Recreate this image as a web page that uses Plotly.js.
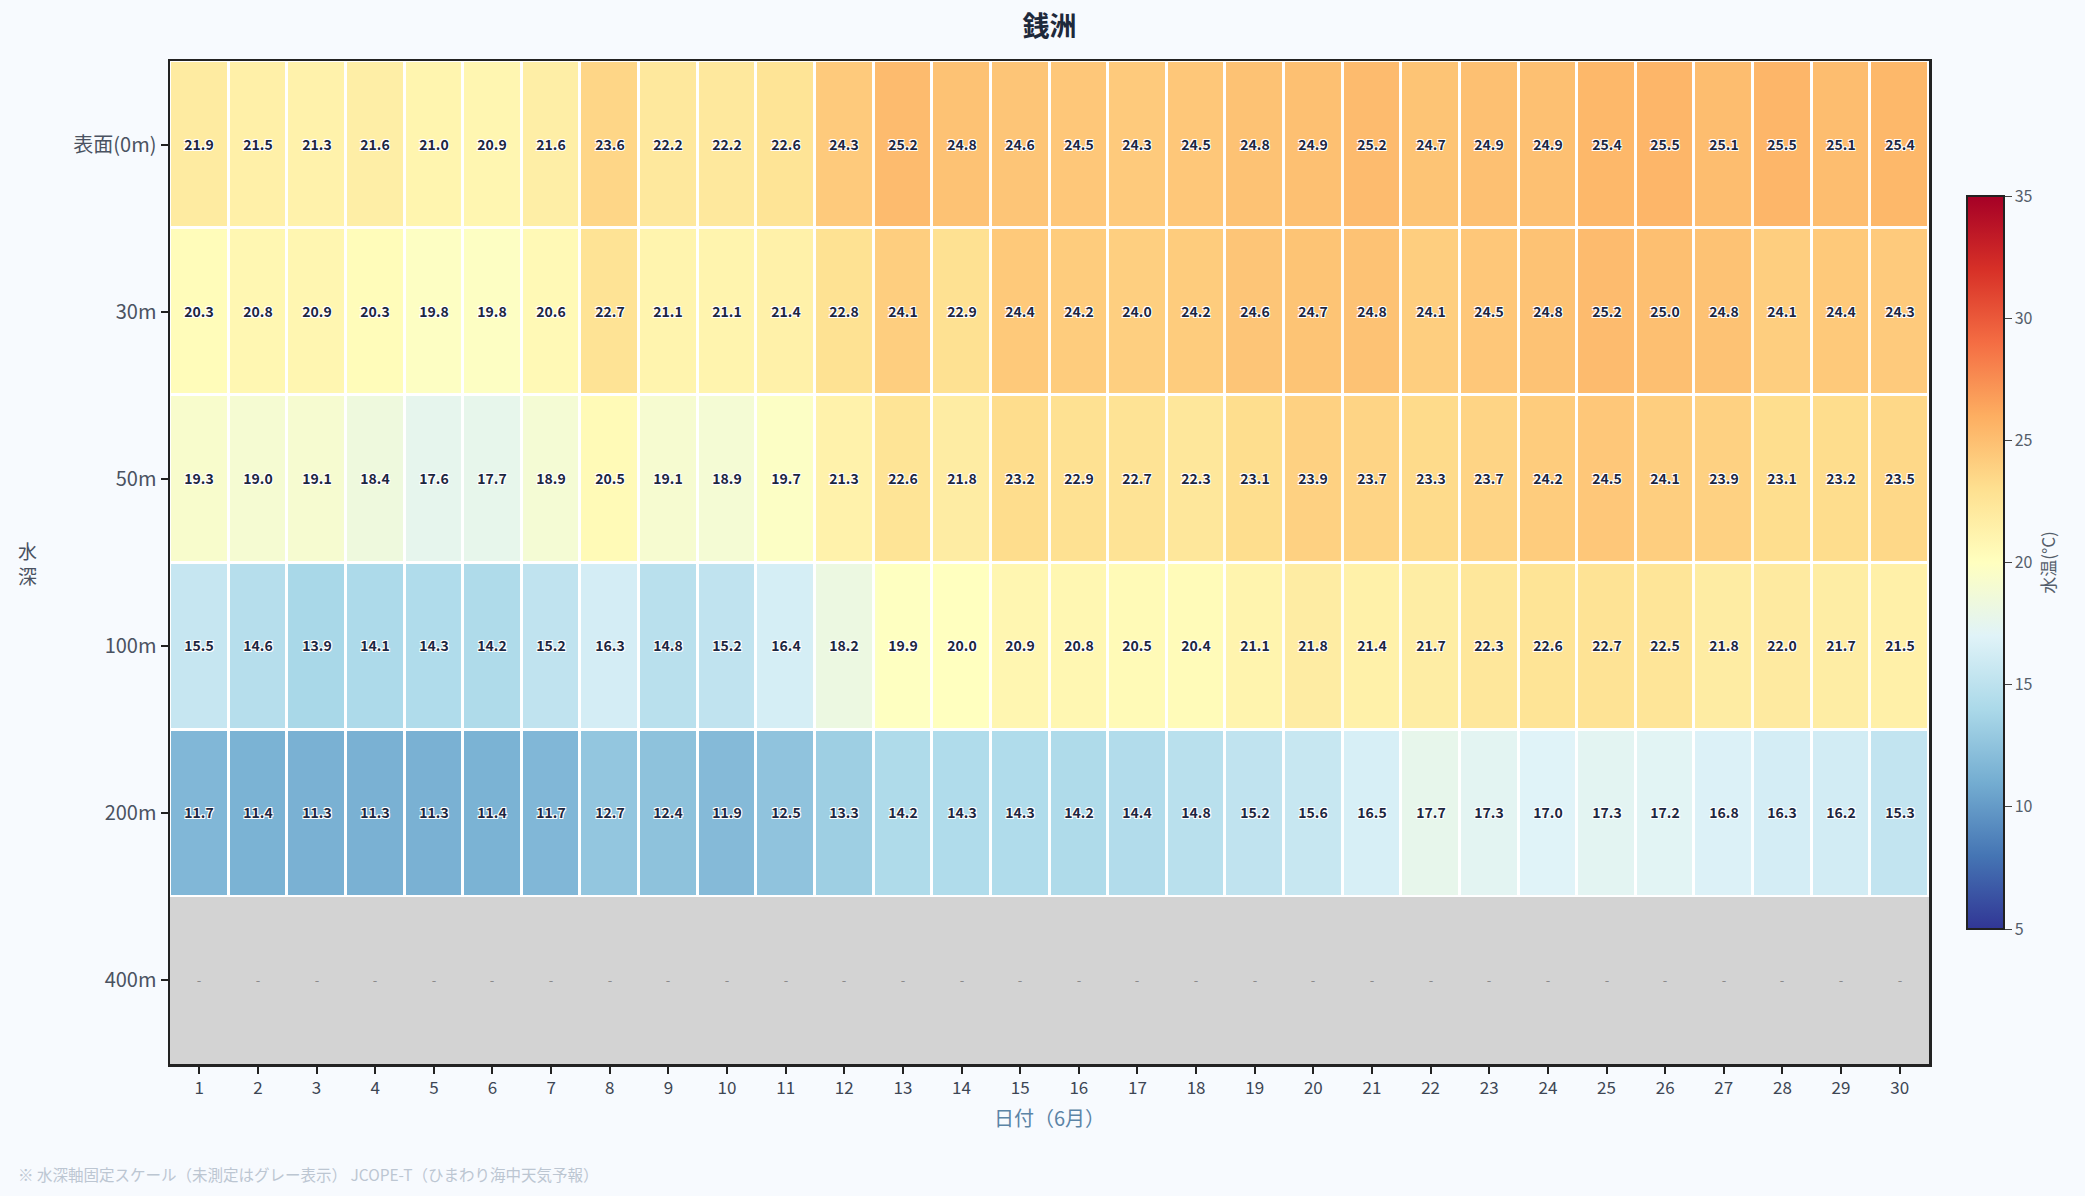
<!DOCTYPE html>
<html>
<head>
<meta charset="utf-8">
<script src="https://cdn.plot.ly/plotly-3.0.1.min.js"></script>
<style>
html,body{margin:0;padding:0;background:#f7fafe;}
#chart{width:2085px;height:1196px;}
</style>
</head>
<body>
<div id="chart"></div>
<script>
const days = [1,2,3,4,5,6,7,8,9,10,11,12,13,14,15,16,17,18,19,20,21,22,23,24,25,26,27,28,29,30];
const depthLabels = ['表面(0m)','30m','50m','100m','200m','400m'];

const temp0m   = [21.9,21.5,21.3,21.6,21.0,20.9,21.6,23.6,22.2,22.2,22.6,24.3,25.2,24.8,24.6,24.5,24.3,24.5,24.8,24.9,25.2,24.7,24.9,24.9,25.4,25.5,25.1,25.5,25.1,25.4];
const temp30m  = [20.3,20.8,20.9,20.3,19.8,19.8,20.6,22.7,21.1,21.1,21.4,22.8,24.1,22.9,24.4,24.2,24.0,24.2,24.6,24.7,24.8,24.1,24.5,24.8,25.2,25.0,24.8,24.1,24.4,24.3];
const temp50m  = [19.3,19.0,19.1,18.4,17.6,17.7,18.9,20.5,19.1,18.9,19.7,21.3,22.6,21.8,23.2,22.9,22.7,22.3,23.1,23.9,23.7,23.3,23.7,24.2,24.5,24.1,23.9,23.1,23.2,23.5];
const temp100m = [15.5,14.6,13.9,14.1,14.3,14.2,15.2,16.3,14.8,15.2,16.4,18.2,19.9,20.0,20.9,20.8,20.5,20.4,21.1,21.8,21.4,21.7,22.3,22.6,22.7,22.5,21.8,22.0,21.7,21.5];
const temp200m = [11.7,11.4,11.3,11.3,11.3,11.4,11.7,12.7,12.4,11.9,12.5,13.3,14.2,14.3,14.3,14.2,14.4,14.8,15.2,15.6,16.5,17.7,17.3,17.0,17.3,17.2,16.8,16.3,16.2,15.3];
const temp400m = [null,null,null,null,null,null,null,null,null,null,null,null,null,null,null,null,null,null,null,null,null,null,null,null,null,null,null,null,null,null];

const zMain = [temp0m,temp30m,temp50m,temp100m,temp200m,temp400m];
// missing-data layer (grey) built from the same rows
const zMissing = zMain.map(row => row.map(v => v === null ? 1 : null));
const textMissing = zMain.map(row => row.map(v => v === null ? '-' : ''));

const rdylbuR = ['#313695','#4575b4','#74add1','#abd9e9','#e0f3f8','#ffffbf','#fee090','#fdae61','#f46d43','#d73027','#a50026'];
const colorscale = rdylbuR.map((c,i)=>[i/10,c]);

const FONT = '"Noto Sans CJK JP", "Noto Sans", sans-serif';

const traces = [
  {
    type:'heatmap', x:days, y:depthLabels, z:zMissing,
    colorscale:[[0,'#d3d3d3'],[1,'#d3d3d3']], showscale:false,
    text:textMissing, texttemplate:'%{text}',
    textfont:{family:FONT,size:13,color:'#8a8a8a'},
    hoverinfo:'skip', xgap:0, ygap:0
  },
  {
    type:'heatmap', x:days, y:depthLabels, z:zMain,
    zmin:5, zmax:35, colorscale:colorscale,
    xgap:3, ygap:3,
    texttemplate:'%{z:.1f}',
    textfont:{family:FONT,size:14,color:'#1c2640',weight:'bold',
      shadow:'-1px -1px 0 #fff, 1px -1px 0 #fff, -1px 1px 0 #fff, 1px 1px 0 #fff'},
    colorbar:{
      x:1.0215, xanchor:'left', xpad:0, y:0.5, yanchor:'middle', len:0.731, lenmode:'fraction',
      ypad:0,
      thickness:37, thicknessmode:'pixels', outlinewidth:2, outlinecolor:'#222',
      tickvals:[5,10,15,20,25,30,35], ticks:'outside', ticklen:7, tickcolor:'#444',
      tickfont:{family:FONT,size:16,color:'#555e6b'},
      title:{text:'水温(°C)', side:'right', font:{family:FONT,size:17,color:'#555e6b'}}
    }
  }
];

const layout = {
  width:2085, height:1196,
  paper_bgcolor:'#f7fafe', plot_bgcolor:'#ffffff',
  margin:{l:170, r:156, t:61, b:132},
  title:{text:'<b>銭洲</b>', x:0.5, xref:'paper', y:1-27/1196, yref:'container', yanchor:'middle',
    font:{family:FONT,size:27,color:'#1e293b'}},
  xaxis:{
    range:[0.5,30.5], tickmode:'array', tickvals:days, ticktext:days.map(String),
    ticks:'outside', ticklen:7, tickwidth:2, tickcolor:'#222',
    showline:true, linecolor:'#222', linewidth:2.5, mirror:true,
    showgrid:false, zeroline:false,
    tickfont:{family:FONT,size:17,color:'#3d4654'},
    title:{text:'日付（6月）', standoff:14, font:{family:FONT,size:20,color:'#5b84a6'}}
  },
  yaxis:{
    type:'category', autorange:'reversed',
    ticks:'outside', ticklen:7, tickwidth:2, tickcolor:'#222',
    showline:true, linecolor:'#222', linewidth:2.5, mirror:true,
    showgrid:false, zeroline:false,
    tickfont:{family:FONT,size:20,color:'#4a5261'}
  },
  annotations:[
    {text:'水<br>深', xref:'paper', yref:'paper', y:0.5, xanchor:'center', yanchor:'middle',
     x:0, xshift:-143, showarrow:false, font:{family:FONT,size:19,color:'#4a5261'}},
    {text:'※ 水深軸固定スケール（未測定はグレー表示） JCOPE-T（ひまわり海中天気予報）', xref:'paper', yref:'paper',
     x:0, xshift:-154, xanchor:'left', y:0, yshift:-110, yanchor:'middle', showarrow:false,
     font:{family:FONT,size:15.5,color:'#bcc6d2'}}
  ]
};

Plotly.newPlot('chart', traces, layout, {displayModeBar:false, staticPlot:true});
</script>
</body>
</html>
